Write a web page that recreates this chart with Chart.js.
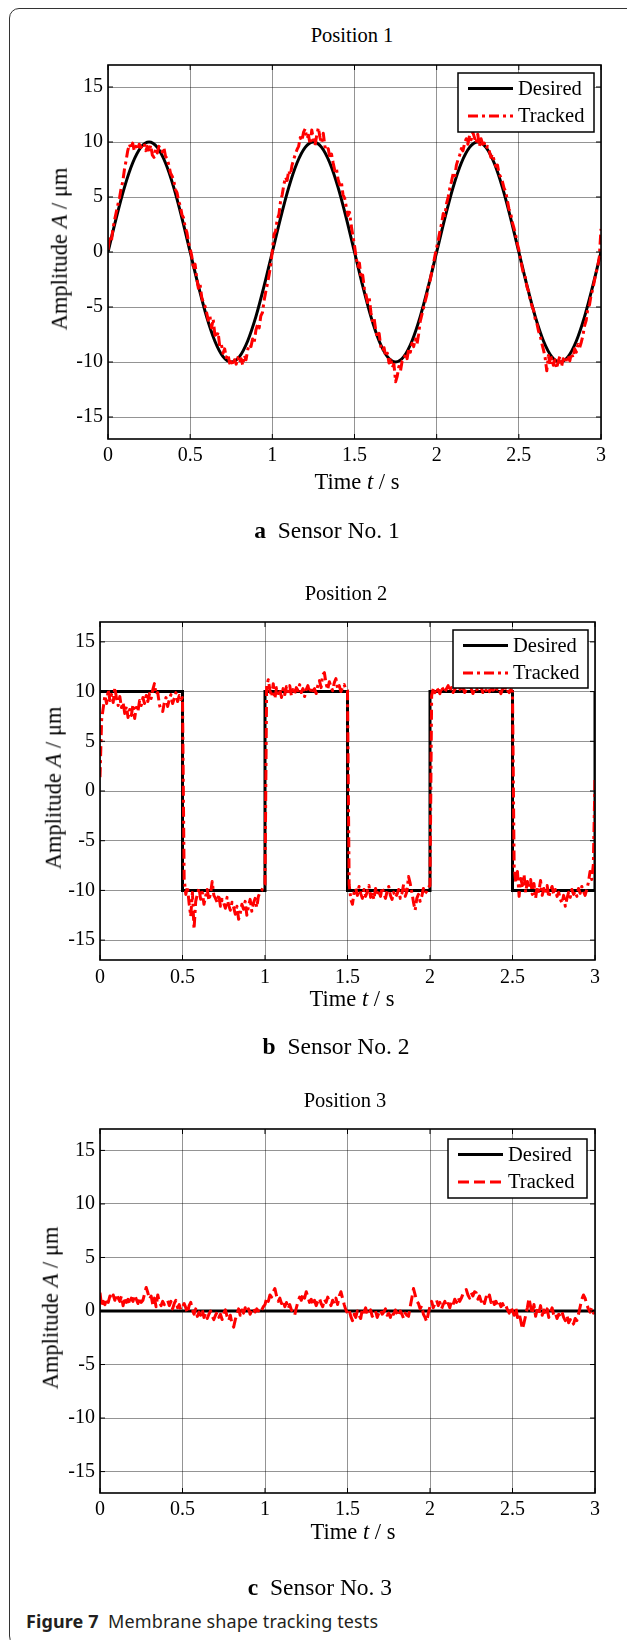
<!DOCTYPE html>
<html>
<head>
<meta charset="utf-8">
<title>Membrane shape tracking tests</title>
<script src="https://cdn.jsdelivr.net/npm/chart.js@4.4.1/dist/chart.umd.min.js"></script>
<style>
  html, body { margin: 0; padding: 0; background: #fff; }
  body { position: relative; width: 627px; height: 1640px; overflow: hidden; font-family: "Liberation Serif", "Times New Roman", serif; color: #000; }
  .frame { position: absolute; left: 9px; top: 8px; width: 660px; height: 1636px; border: 1px solid #333; border-radius: 10px; }
  canvas { position: absolute; left: 0; }
  .t { position: absolute; white-space: nowrap; line-height: 1; transform: translate(-50%, -50%); }
  .title { font-size: 20.5px; }
  .axis { font-size: 22.5px; }
  .ylab { transform: translate(-50%, -50%) rotate(-90deg); }
  .cap { font-size: 23.5px; }
  .fig { position: absolute; left: 26px; top: 1620.5px; transform: translateY(-50%); font-family: "Noto Sans", sans-serif; font-size: 18px; letter-spacing: 0.1px; line-height: 1; white-space: nowrap; color: #231f20; }
</style>
</head>
<body>
<div class="frame"></div>

<div class="t title" style="left:352px;top:35px">Position 1</div>
<canvas id="c1" width="627" height="423" style="top:48px;width:627px;height:423px"></canvas>
<div class="t axis ylab" style="left:59.5px;top:248.5px">Amplitude <i>A</i> / μm</div>
<div class="t axis" style="left:357px;top:482px">Time <i>t</i> / s</div>
<div class="t cap" style="left:327px;top:530.5px"><b>a</b>&nbsp; Sensor No. 1</div>

<div class="t title" style="left:346px;top:593px">Position 2</div>
<canvas id="c2" width="627" height="387" style="top:605px;width:627px;height:387px"></canvas>
<div class="t axis ylab" style="left:54px;top:787.5px">Amplitude <i>A</i> / μm</div>
<div class="t axis" style="left:352px;top:998.5px">Time <i>t</i> / s</div>
<div class="t cap" style="left:336px;top:1047px"><b>b</b>&nbsp; Sensor No. 2</div>

<div class="t title" style="left:345px;top:1100px">Position 3</div>
<canvas id="c3" width="627" height="413" style="top:1112px;width:627px;height:413px"></canvas>
<div class="t axis ylab" style="left:50.5px;top:1307.5px">Amplitude <i>A</i> / μm</div>
<div class="t axis" style="left:353px;top:1531.5px">Time <i>t</i> / s</div>
<div class="t cap" style="left:320px;top:1588px"><b>c</b>&nbsp; Sensor No. 3</div>

<div class="fig"><b>Figure 7</b>&nbsp; Membrane shape tracking tests</div>

<script>
const xTicks = [0, 0.5, 1, 1.5, 2, 2.5, 3];
const yTicks = [-15, -10, -5, 0, 5, 10, 15];
const trackedStep = 0.01;

// Position 1: consigna senoidal (muestreada cada 0.05 s)
const desiredStep1 = 0.05;
const desired1 = [
  0, 3.09, 5.88, 8.09, 9.51, 10, 9.51, 8.09, 5.88, 3.09, 0, -3.09, -5.88, -8.09, -9.51, -10, -9.51, -8.09, -5.88, -3.09,
  0, 3.09, 5.88, 8.09, 9.51, 10, 9.51, 8.09, 5.88, 3.09, 0, -3.09, -5.88, -8.09, -9.51, -10, -9.51, -8.09, -5.88, -3.09,
  0, 3.09, 5.88, 8.09, 9.51, 10, 9.51, 8.09, 5.88, 3.09, 0, -3.09, -5.88, -8.09, -9.51, -10, -9.51, -8.09, -5.88, -3.09,
  0
];
const tracked1 = [
  0.2, 1.4, 0.9, 2.1, 2.9, 3.6, 4.3, 4.9, 5.8, 6.4,
  7.5, 8.3, 9.2, 9.8, 9.4, 9.9, 9.2, 9.6, 9.3, 9.8,
  9.5, 9.7, 9.9, 9.2, 9.6, 9.1, 9.7, 8.8, 8.6, 9.4,
  9.0, 9.6, 9.4, 9.1, 9.5, 8.7, 8.5, 7.9, 7.2, 6.9,
  6.5, 5.7, 5.4, 4.6, 4.2, 3.4, 3.1, 2.2, 1.8, 0.9,
  0.3, -0.4, -1.6, -1.1, -2.4, -3.3, -2.9, -4.1, -4.6, -4.9,
  -5.5, -6.2, -5.8, -6.9, -6.1, -7.5, -7.8, -7.3, -8.6, -8.4,
  -9.2, -8.8, -9.6, -9.3, -10.1, -9.7, -10.3, -9.8, -10.2, -9.6,
  -10.1, -9.7, -10.3, -9.4, -9.8, -8.9, -8.4, -8.6, -7.9, -8.2,
  -7.1, -6.6, -6.9, -5.8, -5.5, -4.4, -3.6, -2.9, -2.1, -1.2,
  0.1, 1.6, 1.9, 3.0, 3.4, 4.6, 5.2, 6.1, 6.8, 6.5,
  7.4, 7.0, 7.9, 8.4, 8.9, 9.3, 9.6, 10.4, 10.1, 10.9,
  11.2, 10.3, 10.6, 9.8, 11.1, 10.2, 9.7, 10.6, 11.3, 10.4,
  9.9, 10.8, 9.6, 9.2, 9.4, 8.6, 8.9, 8.1, 7.4, 7.6,
  6.6, 6.1, 6.4, 5.2, 4.9, 4.1, 3.3, 3.6, 2.4, 1.5,
  0.6, -0.5, -1.3, -1.0, -2.4, -2.1, -3.3, -3.9, -4.6, -4.2,
  -5.5, -6.4, -6.1, -7.2, -7.8, -7.4, -8.6, -9.0, -8.7, -9.5,
  -9.2, -10.1, -9.6, -10.5, -10.2, -11.8, -11.3, -10.4, -10.8, -9.9,
  -9.8, -9.3, -9.7, -8.8, -9.1, -8.3, -8.6, -7.9, -8.4, -7.5,
  -6.3, -5.7, -5.1, -4.5, -3.9, -3.0, -2.6, -1.8, -1.1, -0.3,
  0.4, 1.1, 1.9, 2.6, 3.5, 3.3, 4.4, 5.0, 5.8, 6.4,
  7.1, 6.8, 7.9, 8.4, 8.8, 9.4, 9.2, 9.9, 10.3, 9.8,
  10.6, 10.2, 10.9, 10.4, 9.9, 10.7, 9.6, 10.3, 9.8, 9.9,
  9.4, 9.6, 9.2, 8.6, 8.9, 8.3, 7.8, 7.9, 7.1, 6.8,
  6.4, 5.8, 5.5, 4.7, 3.9, 3.6, 2.7, 2.2, 1.6, 0.8,
  0.2, -0.6, -1.4, -2.1, -2.3, -3.2, -3.6, -4.4, -4.9, -5.3,
  -6.1, -6.5, -7.2, -7.6, -8.3, -8.9, -9.6, -10.8, -9.4, -10.2,
  -9.6, -10.3, -9.8, -10.6, -9.9, -9.5, -10.4, -9.7, -10.1, -9.8,
  -9.4, -9.9, -9.2, -9.6, -8.8, -9.1, -8.4, -8.7, -8.2, -7.6,
  -6.7, -6.2, -5.1, -4.8, -3.9, -3.4, -2.6, -1.9, -1.3, -0.4,
  2.1
];

// Position 2: consigna cuadrada
const desiredTime2 = [0, 0.5, 1, 1.5, 2, 2.5, 3];
const desired2 = [10, -10, 10, -10, 10, -10, 10];
const tracked2 = [
  1.4, 7.2, 8.4, 9.6, 8.8, 10.2, 9.1, 9.7, 8.9, 10.4,
  9.3, 8.6, 9.5, 8.4, 8.9, 7.8, 8.5, 7.4, 8.2, 7.6,
  8.7, 7.3, 8.4, 8.0, 9.1, 8.6, 9.4, 8.8, 9.6, 9.0,
  9.8, 9.3, 10.2, 10.8, 9.7, 9.9, 8.7, 8.1, 8.0, 8.9,
  9.4, 8.5, 9.2, 9.7, 8.8, 9.3, 9.9, 9.0, 9.6, 9.2,
  9.4, -8.8, -10.4, -9.6, -11.3, -12.6, -10.2, -13.9, -11.1, -10.4,
  -9.8, -10.9, -10.2, -11.4, -10.6, -9.9, -11.0, -10.3, -9.1, -10.5,
  -10.8, -11.2, -10.4, -11.6, -10.9, -11.3, -11.8, -10.7, -11.5, -12.0,
  -11.2, -11.7, -12.4, -11.6, -12.9, -12.3, -11.4, -11.9, -11.1, -12.5,
  -11.6, -10.9, -12.1, -11.3, -10.8, -11.7, -10.6, -10.2, -10.0, -9.6,
  -9.4, 10.6, 11.2, 10.1, 9.5, 10.8, 9.3, 10.4, 9.8, 10.2,
  9.4, 10.3, 9.7, 10.5, 10.0, 10.6, 9.6, 10.2, 9.8, 10.4,
  10.1, 10.7, 9.9, 10.3, 9.5, 10.2, 10.6, 9.9, 10.4, 10.1,
  10.3, 9.8, 10.6, 11.1, 10.4, 11.7, 11.9, 10.8, 10.2, 11.0,
  10.5, 10.1, 10.9, 11.3, 10.3, 10.6, 10.0, 10.4, 10.7, 10.2,
  10.1, -9.4, -10.9, -11.4, -10.2, -9.8, -10.5, -9.6, -10.3, -10.8,
  -9.9, -10.6, -10.1, -9.5, -10.7, -10.2, -10.9, -9.8, -10.4, -10.0,
  -10.6, -9.7, -10.3, -10.8, -10.1, -9.6, -10.5, -10.9, -10.2, -10.7,
  -10.4, -9.9, -10.8, -10.3, -9.4, -10.6, -10.1, -8.6, -9.3, -10.2,
  -11.2, -12.0, -10.8, -10.4, -11.1, -10.6, -9.8, -10.3, -10.1, -9.7,
  -9.5, 9.6, 10.3, 9.9, 10.4, 10.1, 9.8, 10.5, 10.2, 9.9,
  10.3, 10.6, 10.0, 10.4, 9.9, 10.2, 10.5, 10.1, 10.3, 10.0,
  10.4, 9.9, 10.2, 10.6, 10.1, 10.3, 9.8, 10.2, 10.4, 10.0,
  10.2, 10.5, 9.9, 10.3, 10.1, 10.4, 10.0, 10.2, 10.3, 9.9,
  10.1, 10.4, 10.2, 9.8, 10.3, 10.0, 10.5, 10.1, 9.9, 10.2,
  10.0, -7.6, -9.2, -8.1, -10.6, -8.8, -9.5, -8.4, -10.2, -9.1,
  -9.7, -8.9, -10.4, -9.3, -10.8, -9.6, -10.1, -9.0, -10.5, -9.8,
  -10.3, -9.5, -10.7, -10.0, -9.6, -10.4, -9.9, -10.6, -10.2, -10.9,
  -11.3, -10.5, -11.6, -10.8, -10.2, -10.7, -9.9, -10.4, -10.1, -10.6,
  -9.8, -10.3, -9.6, -10.1, -10.5, -9.9, -9.2, -8.1, -8.9, -7.4,
  1.3
];

// Position 3: consigna nula
const desiredTime3 = [0, 3];
const desired3 = [0, 0];
const tracked3 = [
  1.7, 0.4, 0.9, 0.6, 1.2, 0.8, 1.4, 1.1, 1.5, 1.0,
  1.6, 1.2, 0.9, 1.4, 0.5, 1.3, 0.8, 1.1, 0.6, 1.2,
  0.9, 1.5, 1.1, 0.7, 1.3, 0.8, 1.0, 1.6, 2.2, 1.7,
  1.1, 1.4, 0.6, 1.2, 0.4, 1.5, 0.8, 0.5, 0.9, 0.6,
  0.8, 1.0, 0.5, 0.9, 0.2, 0.7, 1.0, 0.3, 0.6, 0.1,
  0.4, 0.7, 0.3, -0.2, 0.5, 0.8, 0.1, -0.3, 0.2, -0.5,
  -0.1, -0.4, 0.1, -0.6, -0.2, -0.7, -0.3, 0.0, -0.5, -0.8,
  -0.4, -0.1, -0.6, -0.3, -0.8, -0.2, 0.1, -0.5, -0.9, -0.4,
  -1.2, -1.5, -0.8, -0.3, 0.2, -0.4, 0.1, -0.2, 0.3, -0.1,
  0.2, -0.3, 0.1, 0.3, -0.1, 0.2, 0.0, 0.3, 0.1, 0.4,
  0.6, 1.2, 0.9, 1.5, 1.3, 1.8, 2.1, 1.4, 0.9, 1.2,
  0.7, 1.0, 0.4, 0.8, 0.2, 0.6, 0.1, -0.2, -0.4, 0.3,
  0.9, 1.3, 1.0, 1.6, 1.2, 1.8, 1.3, 0.8, 1.1, 0.6,
  1.0, 0.5, 0.9, 1.2, 0.7, 0.4, 1.1, 0.8, 1.3, 0.9,
  0.5, 1.0, 0.7, 1.2, 0.6, 1.4, 1.8, 1.2, 0.6, 0.1,
  -0.2, 0.1, -0.5, -0.9, -0.3, -0.6, 0.0, -0.4, -0.7, 0.2,
  -0.1, 0.3, -0.4, -0.2, 0.1, -0.5, -0.3, 0.0, -0.6, -0.2,
  0.1, -0.3, -0.1, 0.2, -0.4, -0.2, -0.6, 0.0, -0.3, 0.1,
  -0.2, -0.5, 0.0, -0.3, -0.7, -0.2, -0.4, -0.5, 0.4, 1.2,
  2.1, 1.5, 0.9, 0.7, 0.2, 0.5, -0.3, -0.6, -1.0, -0.2,
  0.4, 0.9, 0.3, 0.7, 1.0, 0.5, 0.8, 0.2, 0.6, 0.9,
  0.4, 0.7, 0.3, 0.9, 0.6, 1.1, 0.8, 1.3, 0.9, 1.2,
  1.6, 1.9, 2.0, 1.5, 1.2, 1.7, 1.4, 1.8, 1.7, 1.1,
  1.4, 0.9, 1.2, 0.7, 1.3, 1.0, 1.5, 0.8, 1.1, 0.6,
  0.9, 0.5, 0.8, 0.4, 0.7, 0.3, 0.5, 0.1, -0.2, 0.4,
  0.0, -0.4, 0.3, -0.6, -0.2, -0.9, -1.7, -1.1, -0.4, 0.3,
  1.2, 0.4, -0.3, 0.6, -0.5, 0.2, -0.2, 0.5, -0.4, 0.1,
  -0.3, 0.2, -0.6, -0.1, 0.3, -0.4, -0.2, -0.7, -0.3, -0.5,
  -0.1, -0.6, -0.9, -0.4, -1.1, -0.8, -1.3, -1.2, -0.7, -0.9,
  -0.3, 0.4, 1.1, 1.5, 1.2, 0.6, 0.2, -0.1, 0.3, -0.2,
  -0.1
];

Chart.defaults.font.family = '"Liberation Serif", "Times New Roman", serif';
Chart.defaults.color = '#000';

const serie = (step, vals) => vals.map((v, i) => ({ x: Math.round(i * step * 1000) / 1000, y: v }));
const pairs = (xs, vals) => vals.map((v, i) => ({ x: xs[i], y: v }));

// caja de ejes cerrada con marcas hacia dentro (estilo MATLAB)
const axesBox = {
  id: 'axesBox',
  afterDatasetsDraw(chart) {
    const { ctx, chartArea: a, scales } = chart;
    ctx.save();
    ctx.strokeStyle = '#000';
    ctx.lineWidth = 1;
    ctx.beginPath();
    xTicks.forEach(v => {
      const px = scales.x.getPixelForValue(v);
      ctx.moveTo(px, a.bottom); ctx.lineTo(px, a.bottom - 5);
      ctx.moveTo(px, a.top); ctx.lineTo(px, a.top + 5);
    });
    yTicks.forEach(v => {
      const py = scales.y.getPixelForValue(v);
      ctx.moveTo(a.left, py); ctx.lineTo(a.left + 5, py);
      ctx.moveTo(a.right, py); ctx.lineTo(a.right - 5, py);
    });
    ctx.stroke();
    ctx.lineWidth = 1.6;
    ctx.strokeRect(a.left, a.top, a.right - a.left, a.bottom - a.top);
    ctx.restore();
  }
};

// leyenda con recuadro dentro del área de trazado
const boxLegend = {
  id: 'boxLegend',
  afterDraw(chart, args, o) {
    const { ctx, chartArea: a } = chart;
    const x0 = a.right - o.right - o.width;
    const y0 = a.top + o.top;
    ctx.save();
    ctx.fillStyle = '#fff';
    ctx.fillRect(x0, y0, o.width, o.height);
    ctx.lineWidth = 1.5;
    ctx.strokeStyle = '#000';
    ctx.strokeRect(x0, y0, o.width, o.height);
    chart.data.datasets.forEach((ds, i) => {
      const y = y0 + o.rowTop + i * o.rowGap;
      ctx.beginPath();
      ctx.setLineDash(ds.borderDash || []);
      ctx.lineWidth = ds.borderWidth;
      ctx.strokeStyle = ds.borderColor;
      ctx.moveTo(x0 + o.lineLeft, y);
      ctx.lineTo(x0 + o.lineLeft + o.lineLen, y);
      ctx.stroke();
      ctx.setLineDash([]);
      ctx.fillStyle = '#000';
      ctx.font = '20.5px "Liberation Serif", "Times New Roman", serif';
      ctx.textBaseline = 'middle';
      ctx.textAlign = 'left';
      ctx.fillText(ds.label, x0 + o.textLeft, y + 1);
    });
    ctx.restore();
  }
};

function makeChart(id, o) {
  const gridOpts = { color: 'rgba(0,0,0,0.42)', lineWidth: 1, drawTicks: false };
  const tickOpts = { padding: 5, font: { size: 20 }, autoSkip: false, maxRotation: 0, callback: v => String(v) };
  return new Chart(document.getElementById(id), {
    type: 'line',
    data: {
      datasets: [
        Object.assign({ label: 'Desired', data: o.desired, borderColor: '#000', borderWidth: 3, pointRadius: 0, order: 2 }, o.desiredStyle),
        { label: 'Tracked', data: o.tracked, borderColor: '#ff0000', borderWidth: 3, borderDash: o.dash,
          borderJoinStyle: 'round', pointRadius: 0, tension: 0, order: 1 }
      ]
    },
    options: {
      responsive: false,
      animation: false,
      events: [],
      layout: { padding: { left: 0, top: 10, right: o.padRight, bottom: 0 } },
      plugins: { legend: { display: false }, tooltip: { enabled: false }, boxLegend: o.legend },
      scales: {
        x: {
          type: 'linear', min: 0, max: 3,
          grid: gridOpts, border: { display: false },
          ticks: Object.assign({}, tickOpts, { padding: o.xPad }),
          afterBuildTicks: s => { s.ticks = xTicks.map(v => ({ value: v })); },
          afterFit: s => { s.height = 32; }
        },
        y: {
          type: 'linear', min: -17, max: 17,
          grid: gridOpts, border: { display: false },
          ticks: tickOpts,
          afterBuildTicks: s => { s.ticks = yTicks.map(v => ({ value: v })); },
          afterFit: s => { s.width = o.axisLeft; }
        }
      }
    },
    plugins: [axesBox, boxLegend]
  });
}

const legendBase = { width: 137, height: 59, lineLeft: 10, lineLen: 45, textLeft: 60, rowTop: 15.5, rowGap: 27.5 };

makeChart('c1', {
  desired: serie(desiredStep1, desired1),
  desiredStyle: { cubicInterpolationMode: 'monotone' },
  tracked: serie(trackedStep, tracked1),
  dash: [10, 4, 3, 4],
  axisLeft: 108, padRight: 26, xPad: 5,
  legend: Object.assign({}, legendBase, { right: 7, top: 8, width: 136 })
});

makeChart('c2', {
  desired: pairs(desiredTime2, desired2),
  desiredStyle: { stepped: true },
  tracked: serie(trackedStep, tracked2),
  dash: [10, 4, 3, 4],
  axisLeft: 100, padRight: 32, xPad: 6,
  legend: Object.assign({}, legendBase, { right: 7, top: 8, width: 135, height: 58 })
});

makeChart('c3', {
  desired: pairs(desiredTime3, desired3),
  desiredStyle: {},
  tracked: serie(trackedStep, tracked3),
  dash: [11, 5],
  axisLeft: 100, padRight: 32, xPad: 5,
  legend: Object.assign({}, legendBase, { right: 8, top: 10, width: 139 })
});
</script>
</body>
</html>
